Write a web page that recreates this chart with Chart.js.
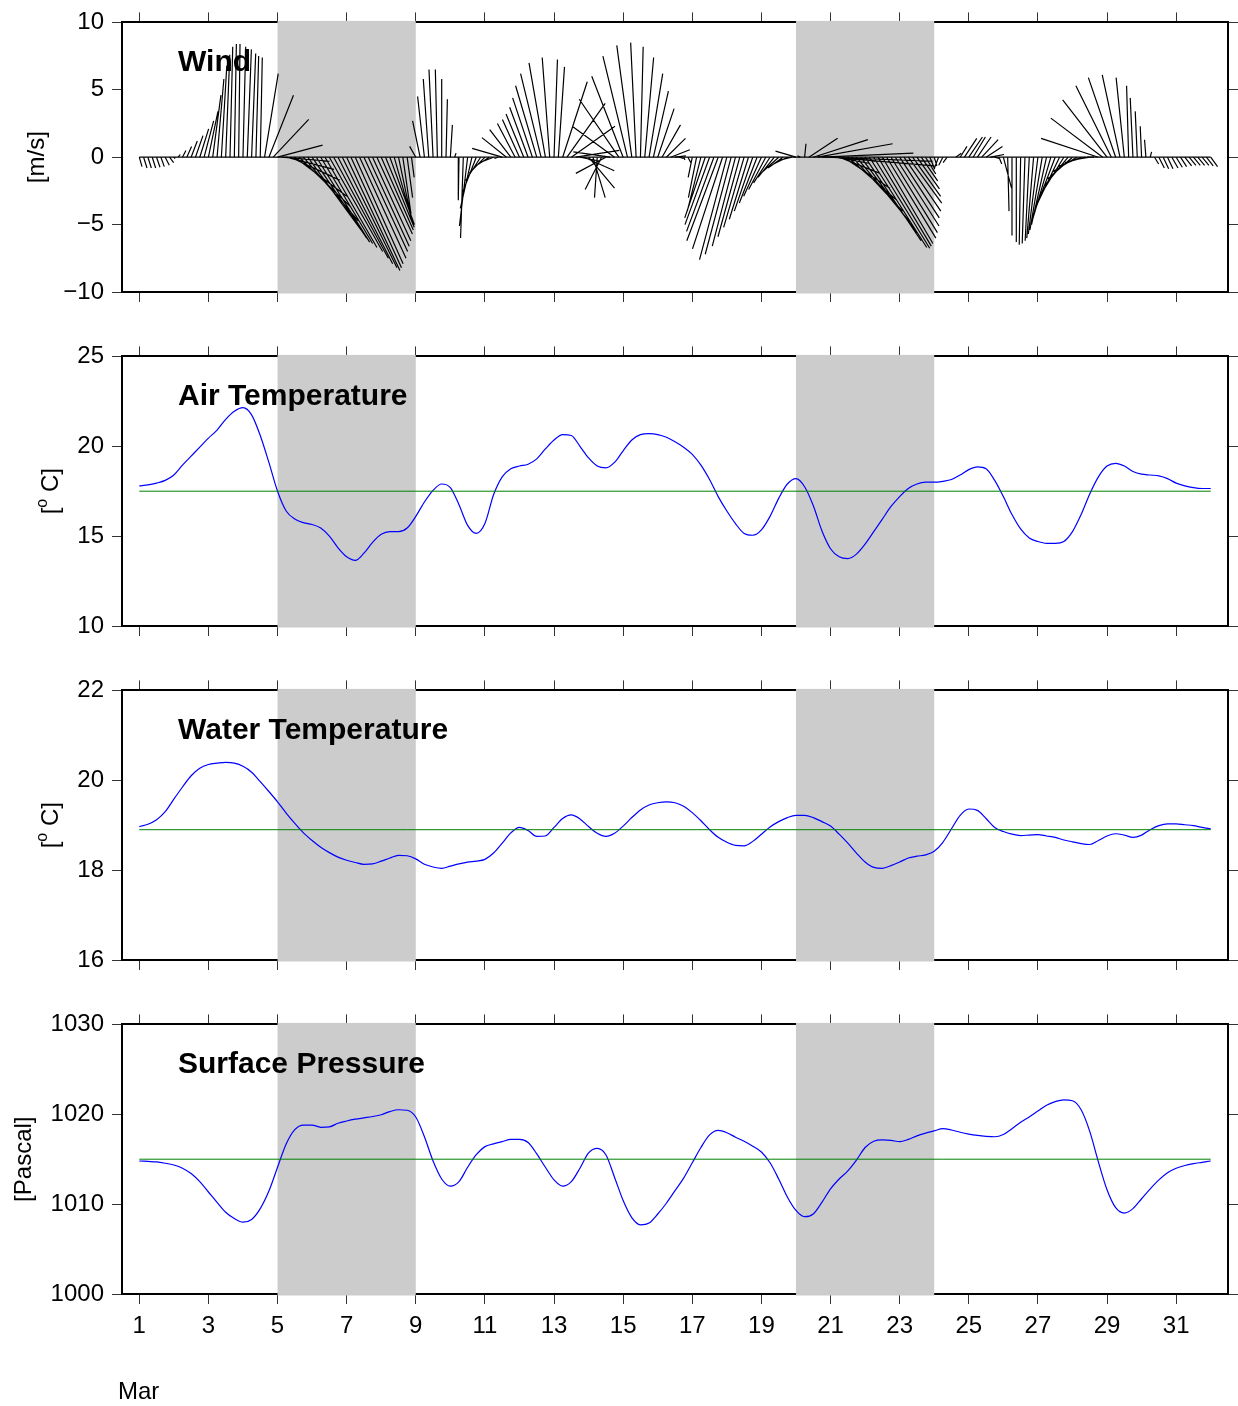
<!DOCTYPE html>
<html>
<head>
<meta charset="utf-8">
<title>March met record</title>
<script src="https://cdn.jsdelivr.net/npm/chart.js@4.4.1/dist/chart.umd.min.js"></script>
<style>
  body { margin: 0; background: #fff; }
  #wrap { position: relative; width: 1238px; height: 1406px; }
  canvas { position: absolute; left: 0; }
</style>
</head>
<body>
<div id="wrap">
  <canvas id="wind"  width="1238" height="334" style="top:0px"></canvas>
  <canvas id="air"   width="1238" height="334" style="top:334px"></canvas>
  <canvas id="water" width="1238" height="334" style="top:668px"></canvas>
  <canvas id="pres"  width="1238" height="404" style="top:1002px"></canvas>
</div>
<script>
const FONT = "'Liberation Sans', Arial, Helvetica, sans-serif"
Chart.defaults.font.family = FONT
Chart.defaults.color = '#000'

// time axis (days of March)
const X_MIN = 0.5
const X_MAX = 32.5
const dayTicks = [1, 3, 5, 7, 9, 11, 13, 15, 17, 19, 21, 23, 25, 27, 29, 31]
const shadeSpans = [[5, 9], [20, 24]]

// wind components, 3-hourly from Mar 1 00h, m/s
const windStart = 1
const windStep = 0.125
const windU = [
    0.2, 0.25, 0.25, 0.25, 0.25, 0.25, 0.3, 0.3,        // 1
    0.1, 0.15, 0.25, 0.35, 0.45, 0.55, 0.65, 0.7,       // 2
    0.7, 0.6, 0.5, 0.4, 0.3, 0.2, 0.15, 0.1,            // 3
    0.2, 0.3, 0.3, 0.2, 0.15, 1.0, 1.8, 2.6,            // 4
    3.3, 3.5, 3.5, 3.6, 3.8, 3.8, 4.0, 3.9,             // 5
    4.0, 3.9, 3.8, 3.8, 3.9, 4.0, 4.0, 4.0,             // 6
    3.9, 3.7, 3.5, 3.4, 3.2, 3.0, 2.8, 2.6,             // 7
    2.35, 2.1, 1.8, 1.4, 1.0, 0.6, 0.4, 0.2,            // 8
    -0.45, -0.55, -0.5, -0.4, -0.3, -0.15, 0, 0.1,      // 9
    0.15, 0.1, -0.05, -0.2, -0.6, -0.85, -1.0, -1.1,    // 10
    -1.15, -1.0, -0.75, -0.25, -2.2, -1.8, -1.55, -1.3, // 11
    -1.25, -1.3, -1.35, -1.45, -1.55, -1.5, -1.2, -0.55,// 12
    0.25, 0.45, 1.8, 2.8, 3.2, 3.2, 1.5, 2.2,           // 13
    1.9, 0.9, -0.2, -1.2, -2.2, -2.7, -3.1, -2.9,       // 14
    -2.3, -1.8, -1.1, -0.4, 0.2, 0.65, 1.0, 1.1,        // 15
    1.2, 1.35, 1.4, 1.4, 0.8, 0.3, 0.1, 0.2,            // 16
    -0.3, -0.6, -1.0, -1.5, -1.8, -2.0, -2.3, -2.2,     // 17
    -2.0, -1.9, -1.7, -1.6, -1.5, -1.4, -1.35, -1.3,    // 18
    -1.3, -1.25, -1.2, -1.2, -1.2, -1.1, -1.0, -1.0,    // 19
    -1.5, -0.2, 0.1, 2.1, 4.0, 5.5, 6.7, 7.8,           // 20
    7.6, 2.5, 3.0, 3.4, 3.6, 3.7, 3.9, 4.1,             // 21
    4.1, 4.2, 4.1, 3.9, 3.7, 3.6, 3.4, 3.2,             // 22
    2.9, 2.7, 2.45, 2.05, 1.65, 1.2, 0.75, 0.35,        // 23
    0.2, -0.3, -0.3, -0.3, 0, 0.4, 0.5, 0.9,            // 24
    1.0, 0.9, 1.0, 1.2, 1.2, 1.0, 0.4, 0.2,             // 25
    0.6, 0.1, 0.0, 0.0, -0.1, -0.2, -0.3, -0.5,         // 26
    -0.7, -0.9, -1.1, -1.3, -1.5, -1.6, -1.7, -1.8,     // 27
    -1.8, -1.8, -1.7, -1.5, -1.2, -0.5, -4.2, -3.8,     // 28
    -3.25, -2.6, -2.0, -1.3, -0.6, -0.15, -0.2, -0.15,  // 29
    -0.1, -0.1, 0.1, 0.3, 0.4, 0.4, 0.4, 0.45,          // 30
    0.45, 0.45, 0.5, 0.5, 0.5, 0.5, 0.5, 0.5,           // 31
    0.5                                                 // 32
]
const windV = [
    -0.7, -0.8, -0.8, -0.8, -0.75, -0.7, -0.6, -0.4,    // 1
    -0.1, 0.2, 0.5, 0.8, 1.2, 1.6, 2.1, 2.7,            // 2
    3.4, 4.6, 5.8, 6.8, 7.6, 8.2, 8.4, 8.4,             // 3
    8.2, 8.0, 7.7, 7.5, 7.4, 6.2, 4.6, 2.8,             // 4
    0.9, -0.3, -0.9, -1.7, -2.9, -3.7, -4.7, -5.4,      // 5
    -6.0, -6.3, -6.4, -6.7, -7.0, -7.5, -7.9, -8.2,     // 6
    -8.4, -8.2, -7.9, -7.5, -7.0, -6.6, -6.2, -5.7,     // 7
    -5.4, -5.2, -5.0, -5.0, -4.8, -4.2, -3.0, -1.5,     // 8
    0.8, 2.7, 4.5, 5.8, 6.5, 6.5, 5.8, 4.3,             // 9
    2.4, 0.3, -3.2, -6.0, -5.1, -3.8, -2.6, -1.75,      // 10
    -1.2, -0.65, -0.3, -0.1, 0.65, 1.45, 2.05, 2.5,     // 11
    2.8, 3.2, 3.7, 4.4, 5.3, 6.2, 7.0, 7.4,             // 12
    7.25, 6.7, 5.6, 4.0, 2.3, 0.5, -0.3, -1.0,          // 13
    -2.3, -3.0, -3.0, -2.4, -1.2, 0.4, 2.3, 4.3,        // 14
    6.0, 7.5, 8.3, 8.5, 8.2, 7.4, 6.2, 4.9,             // 15
    3.6, 2.4, 1.4, 0.55, 0.1, -0.1, -0.2, -0.4,         // 16
    -1.5, -3.0, -4.0, -4.5, -5.0, -5.5, -6.2, -6.8,     // 17
    -7.6, -7.2, -6.6, -5.9, -5.2, -4.6, -4.0, -3.4,     // 18
    -2.9, -2.4, -1.9, -1.5, -1.1, -0.8, -0.5, -0.25,    // 19
    0.45, 0.1, 1.0, 1.4, 1.3, 1.0, 0.3, -0.3,           // 20
    -0.65, -0.45, -1.2, -2.3, -3.2, -4.0, -4.8, -5.6,   // 21
    -6.2, -6.7, -6.75, -6.6, -6.4, -6.0, -5.6, -5.1,    // 22
    -4.5, -4.0, -3.4, -2.9, -2.35, -1.75, -1.25, -0.9,  // 23
    -0.65, -0.8, -0.6, -0.4, 0, 0.3, 0.8, 1.4,          // 24
    1.5, 1.5, 1.5, 1.3, 0.8, 0.2, -0.1, -0.5,           // 25
    -2.3, -4.0, -5.8, -6.3, -6.5, -6.4, -6.2, -6.0,     // 26
    -5.7, -5.4, -5.0, -4.5, -4.0, -3.4, -2.8, -2.2,     // 27
    -1.6, -1.1, -0.7, -0.4, -0.2, 0, 1.4, 2.9,          // 28
    4.25, 5.3, 5.9, 6.1, 5.9, 5.3, 4.4, 3.4,            // 29
    2.3, 1.3, 0.4, -0.5, -0.8, -0.85, -0.85, -0.8,      // 30
    -0.75, -0.7, -0.65, -0.6, -0.6, -0.6, -0.6, -0.65,  // 31
    -0.7                                                // 32
]

// 6-hourly series from Mar 1 00h
const seriesStart = 1
const seriesStep = 0.25
const airTemp = [
    17.8, 17.85, 17.95, 18.1,     // 1
    18.4, 18.95, 19.45, 19.95,    // 2
    20.45, 20.9, 21.5, 21.95,     // 3
    22.15, 21.75, 20.6, 19.1,     // 4
    17.5, 16.4, 15.95, 15.75,     // 5
    15.65, 15.45, 15.0, 14.35,    // 6
    13.85, 13.65, 14.05, 14.65,   // 7
    15.1, 15.25, 15.25, 15.45,    // 8
    16.1, 16.9, 17.55, 17.9,      // 9
    17.7, 16.75, 15.6, 15.15,     // 10
    15.7, 17.3, 18.3, 18.75,      // 11
    18.9, 19.0, 19.3, 19.85,      // 12
    20.35, 20.65, 20.6, 20.0,     // 13
    19.35, 18.9, 18.8, 19.1,      // 14
    19.75, 20.35, 20.65, 20.7,    // 15
    20.65, 20.5, 20.25, 19.95,    // 16
    19.55, 18.95, 18.15, 17.2,    // 17
    16.4, 15.7, 15.15, 15.05,     // 18
    15.35, 16.1, 17.1, 17.9,      // 19
    18.2, 17.75, 16.7, 15.3,      // 20
    14.3, 13.85, 13.75, 14.0,     // 21
    14.55, 15.25, 15.95, 16.65,   // 22
    17.2, 17.65, 17.9, 18.0,      // 23
    18.0, 18.05, 18.15, 18.4,     // 24
    18.7, 18.85, 18.75, 18.1,     // 25
    17.2, 16.2, 15.4, 14.9,       // 26
    14.7, 14.6, 14.6, 14.7,       // 27
    15.25, 16.2, 17.35, 18.3,     // 28
    18.9, 19.05, 18.9, 18.6,      // 29
    18.45, 18.4, 18.35, 18.2,     // 30
    17.95, 17.8, 17.7, 17.65,     // 31
    17.65                         // 32
]
const waterTemp = [
    18.97, 19.02, 19.12, 19.3,    // 1
    19.58, 19.85, 20.1, 20.27,    // 2
    20.35, 20.38, 20.4, 20.38,    // 3
    20.31, 20.18, 19.97, 19.75,   // 4
    19.52, 19.27, 19.04, 18.83,   // 5
    18.66, 18.51, 18.39, 18.29,   // 6
    18.22, 18.17, 18.13, 18.14,   // 7
    18.2, 18.27, 18.33, 18.32,    // 8
    18.25, 18.13, 18.07, 18.04,   // 9
    18.09, 18.14, 18.18, 18.2,    // 10
    18.24, 18.38, 18.6, 18.83,    // 11
    18.95, 18.88, 18.75, 18.76,   // 12
    18.95, 19.15, 19.23, 19.14,   // 13
    18.97, 18.82, 18.75, 18.82,   // 14
    18.98, 19.17, 19.34, 19.45,   // 15
    19.5, 19.52, 19.5, 19.42,     // 16
    19.28, 19.1, 18.9, 18.73,     // 17
    18.62, 18.55, 18.54, 18.64,   // 18
    18.8, 18.96, 19.08, 19.17,    // 19
    19.22, 19.22, 19.17, 19.08,   // 20
    18.98, 18.8, 18.6, 18.38,     // 21
    18.18, 18.06, 18.04, 18.1,    // 22
    18.18, 18.27, 18.31, 18.34,   // 23
    18.42, 18.62, 18.92, 19.22,   // 24
    19.36, 19.33, 19.15, 18.95,   // 25
    18.86, 18.8, 18.77, 18.78,    // 26
    18.79, 18.76, 18.73, 18.67,   // 27
    18.63, 18.59, 18.57, 18.66,   // 28
    18.76, 18.81, 18.78, 18.73,   // 29
    18.78, 18.9, 18.99, 19.03,    // 30
    19.03, 19.01, 18.99, 18.95,   // 31
    18.92                         // 32
]
const pressure = [
    1014.8, 1014.75, 1014.7, 1014.55,    // 1
    1014.35, 1014.0, 1013.4, 1012.5,     // 2
    1011.35, 1010.2, 1009.1, 1008.4,     // 3
    1008.0, 1008.3, 1009.5, 1011.45,     // 4
    1014.1, 1016.7, 1018.3, 1018.8,      // 5
    1018.8, 1018.55, 1018.6, 1019.0,     // 6
    1019.25, 1019.45, 1019.6, 1019.75,   // 7
    1019.95, 1020.3, 1020.5, 1020.45,    // 8
    1019.7, 1017.5, 1014.8, 1012.8,      // 9
    1012.0, 1012.5, 1014.1, 1015.5,      // 10
    1016.4, 1016.7, 1016.95, 1017.2,     // 11
    1017.2, 1016.85, 1015.6, 1014.1,     // 12
    1012.7, 1012.0, 1012.5, 1014.0,      // 13
    1015.7, 1016.2, 1015.5, 1013.0,      // 14
    1010.4, 1008.5, 1007.7, 1007.9,      // 15
    1008.9, 1010.1, 1011.5, 1012.9,      // 16
    1014.6, 1016.3, 1017.7, 1018.2,      // 17
    1017.95, 1017.45, 1017.0, 1016.45,   // 18
    1015.8, 1014.6, 1012.8, 1010.8,      // 19
    1009.3, 1008.6, 1008.9, 1010.2,      // 20
    1011.7, 1012.8, 1013.7, 1014.9,      // 21
    1016.3, 1017.0, 1017.15, 1017.1,     // 22
    1016.95, 1017.2, 1017.6, 1017.9,     // 23
    1018.15, 1018.4, 1018.25, 1018.0,    // 24
    1017.8, 1017.65, 1017.55, 1017.5,    // 25
    1017.75, 1018.4, 1019.1, 1019.7,     // 26
    1020.35, 1021.0, 1021.4, 1021.6,     // 27
    1021.5, 1020.5, 1018.1, 1014.7,      // 28
    1011.6, 1009.6, 1009.0, 1009.5,      // 29
    1010.6, 1011.7, 1012.7, 1013.5,      // 30
    1014.0, 1014.3, 1014.5, 1014.65,     // 31
    1014.8                               // 32
]
const airMean = 17.5
const waterMean = 18.9
const pressureMean = 1015.0

// days per m/s, so a stick keeps its true angle on the 20 m/s tall panel
const STICK_SCALE = 0.395


const toPoints = (vals) => vals.map((v, i) => ({ x: seriesStart + i * seriesStep, y: v }))

const meanLine = (m) => [{ x: 1, y: m }, { x: 32, y: m }]

const windSticks = []
windU.forEach((u, i) => {
    let t = windStart + i * windStep
    windSticks.push({ x: t, y: 0 }, { x: t + u * STICK_SCALE, y: windV[i] }, { x: t, y: null })
})


const minusSign = (v) => v < 0 ? '\u2212' + Math.abs(v) : String(v)

const makeScales = (yMin, yMax, yStep, bottomHeight, showDays) => {
    const tickMarks = {
        drawOnChartArea: false, drawTicks: true, tickLength: 10,
        color: '#333', tickColor: '#333', tickWidth: 1
    }
    const frame = { display: true, color: '#000', width: 2 }
    const oddDays = (s) => { s.ticks = dayTicks.map((v) => ({ value: v })) }
    return {
        x: {
            type: 'linear', position: 'bottom', min: X_MIN, max: X_MAX,
            afterBuildTicks: oddDays,
            grid: tickMarks, border: frame,
            ticks: { display: showDays, autoSkip: false, maxRotation: 0, padding: 8, font: { size: 24 }, color: '#000' },
            afterFit: (s) => { s.height = bottomHeight }
        },
        xTop: {
            type: 'linear', position: 'top', min: X_MIN, max: X_MAX,
            afterBuildTicks: oddDays,
            grid: tickMarks, border: frame,
            ticks: { display: false },
            afterFit: (s) => { s.height = 19 }
        },
        y: {
            type: 'linear', position: 'left', min: yMin, max: yMax,
            grid: tickMarks, border: frame,
            ticks: { stepSize: yStep, padding: 8, font: { size: 24 }, color: '#000', callback: minusSign },
            afterFit: (s) => { s.width = 122 }
        },
        yRight: {
            type: 'linear', position: 'right', min: yMin, max: yMax,
            grid: tickMarks, border: frame,
            ticks: { stepSize: yStep, display: false },
            afterFit: (s) => { s.width = 10 }
        }
    }
}

// grey blocks are painted after the frame, so they cut through it
const shadePlugin = {
    id: 'shade',
    beforeDatasetsDraw(chart) {
        const { ctx, chartArea, scales } = chart
        ctx.save()
        ctx.fillStyle = '#cccccc'
        for (let [a, b] of shadeSpans) {
            let x0 = scales.x.getPixelForValue(a)
            let x1 = scales.x.getPixelForValue(b)
            ctx.fillRect(x0, chartArea.top - 1.5, x1 - x0, chartArea.bottom - chartArea.top + 3)
        }
        ctx.restore()
    }
}

const drawVertical = (ctx, parts, cx, cy) => {
    ctx.save()
    ctx.translate(cx, cy)
    ctx.rotate(-Math.PI / 2)
    ctx.textBaseline = 'middle'
    ctx.textAlign = 'left'
    let total = 0
    for (let p of parts) {
        ctx.font = p.font
        p.w = ctx.measureText(p.text).width
        total += p.w
    }
    let x = -total / 2
    for (let p of parts) {
        ctx.font = p.font
        ctx.fillText(p.text, x, p.dy || 0)
        x += p.w
    }
    ctx.restore()
}

const labelPlugin = (title, yParts, yLabelX, extra) => ({
    id: 'labels',
    afterDraw(chart) {
        const { ctx, chartArea } = chart
        ctx.save()
        ctx.fillStyle = '#000'
        ctx.font = `bold 30px ${FONT}`
        ctx.textBaseline = 'middle'
        ctx.textAlign = 'left'
        ctx.fillText(title, 178, chartArea.top + 40)
        drawVertical(ctx, yParts, yLabelX, (chartArea.top + chartArea.bottom) / 2)
        if (extra) {
            ctx.font = `24px ${FONT}`
            ctx.textBaseline = 'middle'
            ctx.fillText(extra, 118, 390)
        }
        ctx.restore()
    }
})

const baseOptions = (scales) => ({
    responsive: false,
    animation: false,
    devicePixelRatio: 1,
    events: [],
    layout: { padding: 0, autoPadding: false },
    elements: { point: { radius: 0 } },
    plugins: { legend: { display: false }, tooltip: { enabled: false } },
    scales: scales
})

const MAIN = `24px ${FONT}`
const SUP = `16px ${FONT}`
const degLabel = [
    { text: '[', font: MAIN },
    { text: 'o', font: SUP, dy: -8 },
    { text: ' C]', font: MAIN }
]

// wind sticks
new Chart(document.querySelector('#wind').getContext('2d'), {
    type: 'line',
    data: {
        datasets: [
            {
                data: [{ x: 1, y: 0 }, { x: 32, y: 0 }],
                borderColor: '#000', borderWidth: 1.2
            },
            {
                data: windSticks,
                borderColor: '#000', borderWidth: 1.2,
                spanGaps: false
            }
        ]
    },
    options: baseOptions(makeScales(-10, 10, 5, 42, false)),
    plugins: [shadePlugin, labelPlugin('Wind', [{ text: '[m/s]', font: MAIN }], 37)]
})

const seriesChart = (id, vals, mean, yMin, yMax, yStep, bottomHeight, showDays, title, yParts, yLabelX, extra) => {
    new Chart(document.querySelector(id).getContext('2d'), {
        type: 'line',
        data: {
            datasets: [
                {
                    data: meanLine(mean),
                    borderColor: '#008000', borderWidth: 1
                },
                {
                    data: toPoints(vals),
                    borderColor: '#0000ff', borderWidth: 1.2,
                    cubicInterpolationMode: 'monotone'
                }
            ]
        },
        options: baseOptions(makeScales(yMin, yMax, yStep, bottomHeight, showDays)),
        plugins: [shadePlugin, labelPlugin(title, yParts, yLabelX, extra)]
    })
}

seriesChart('#air', airTemp, airMean, 10, 25, 5, 42, false, 'Air Temperature', degLabel, 51)
seriesChart('#water', waterTemp, waterMean, 16, 22, 2, 42, false, 'Water Temperature', degLabel, 51)
seriesChart('#pres', pressure, pressureMean, 1000, 1030, 10, 112, true, 'Surface Pressure',
    [{ text: '[Pascal]', font: MAIN }], 24, 'Mar')
</script>
</body>
</html>
